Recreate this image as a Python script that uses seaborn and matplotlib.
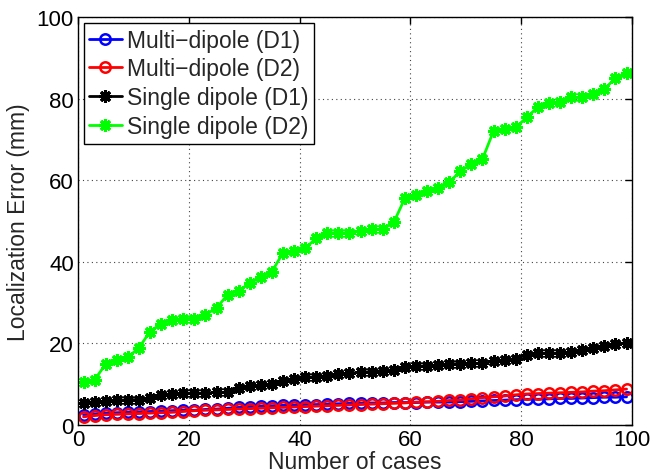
import numpy as np
import pandas as pd
import matplotlib
matplotlib.use("Agg")
import matplotlib.pyplot as plt
import seaborn as sns

cases = list(range(1, 100, 2))

multi_d1 = [2.5, 2.7, 2.9, 3.0, 3.1, 3.2, 3.3, 3.4, 3.5, 3.6,
            3.6, 3.8, 3.9, 4.1, 4.3, 4.5, 4.6, 4.7, 4.8, 4.9,
            5.0, 5.0, 5.1, 5.2, 5.3, 5.3, 5.4, 5.4, 5.5, 5.5,
            5.5, 5.6, 5.6, 5.6, 5.7, 5.8, 5.9, 6.0, 6.1, 6.2,
            6.3, 6.3, 6.4, 6.5, 6.5, 6.6, 6.7, 6.8, 6.8, 6.9]
multi_d2 = [2.0, 2.3, 2.5, 2.6, 2.7, 2.8, 2.9, 3.0, 3.1, 3.3,
            3.5, 3.6, 3.7, 3.8, 3.9, 4.0, 4.1, 4.2, 4.3, 4.4,
            4.5, 4.6, 4.7, 4.8, 4.9, 5.0, 5.1, 5.2, 5.3, 5.4,
            5.6, 5.7, 5.8, 6.0, 6.1, 6.4, 6.7, 6.9, 7.1, 7.4,
            7.6, 7.7, 7.8, 7.9, 8.0, 8.1, 8.3, 8.4, 8.6, 8.8]
single_d1 = [5.4, 5.7, 5.8, 6.0, 6.2, 6.2, 6.5, 7.4, 7.6, 7.8,
             7.8, 7.8, 8.0, 8.0, 9.1, 9.5, 9.7, 10.0, 10.9, 11.3,
             11.7, 11.8, 12.1, 12.5, 12.7, 12.9, 13.1, 13.3, 13.5, 14.1,
             14.4, 14.5, 14.7, 15.0, 15.0, 15.1, 15.1, 15.6, 16.0, 16.2,
             17.2, 17.6, 17.6, 17.6, 17.8, 18.4, 18.8, 19.3, 19.9, 20.1]
single_d2 = [10.5, 11.1, 14.9, 16.0, 16.6, 18.9, 22.9, 24.8, 25.8, 26.1,
             26.1, 27.0, 28.7, 31.9, 32.9, 34.8, 36.2, 37.6, 42.2, 42.7,
             43.3, 45.8, 47.1, 47.1, 47.1, 47.5, 48.0, 48.0, 49.7, 55.6,
             56.4, 57.4, 58.0, 59.5, 62.2, 64.0, 65.2, 72.1, 72.5, 73.0,
             75.4, 78.0, 78.9, 79.3, 80.3, 80.3, 81.1, 82.4, 85.0, 86.3]

labels = ["Multi\u2212dipole (D1)", "Multi\u2212dipole (D2)",
          "Single dipole (D1)", "Single dipole (D2)"]
series = [multi_d1, multi_d2, single_d1, single_d2]
colors = ["#0000ff", "#ff0000", "#000000", "#00ff00"]
markers = ["o", "o", (8, 2, 0), (8, 2, 0)]

sns.set_style("white")
plt.rcParams['font.family'] = ['Liberation Sans', 'DejaVu Sans']

fig = plt.figure(figsize=(6.53, 4.77), dpi=100)
ax = fig.add_axes([0.1194, 0.107, 0.8486, 0.855])

for lab, vals, c, m in zip(labels, series, colors, markers):
    df = pd.DataFrame({"x": cases, "y": vals})
    if m == "o":
        sns.lineplot(data=df, x="x", y="y", ax=ax, color=c, marker="o",
                     markersize=7.5, markerfacecolor="none", markeredgecolor=c,
                     markeredgewidth=1.8, linewidth=2, label=lab)
    else:
        sns.lineplot(data=df, x="x", y="y", ax=ax, color=c, marker=m,
                     markersize=9, markeredgecolor=c, markeredgewidth=2.2,
                     linewidth=2, label=lab)

ax.set_xlim(0, 100)
ax.set_ylim(0, 100)
ax.set_xticks([0, 20, 40, 60, 80, 100])
ax.set_yticks([0, 20, 40, 60, 80, 100])
ax.grid(True, linestyle=(0, (1, 3)), color="#444444", linewidth=0.8)
ax.tick_params(direction="in", top=True, right=True, length=5,
               labelsize=16, colors="black", width=1, pad=3)
for s in ax.spines.values():
    s.set_color("black")
    s.set_linewidth(1.0)
ax.set_xlabel("Number of cases", fontsize=16.5, labelpad=0)
ax.set_ylabel("Localization Error (mm)", fontsize=16.5, labelpad=5)

leg = ax.legend(loc="upper left", fontsize=16.5, frameon=True, fancybox=False,
                edgecolor="black", handlelength=1.4, handletextpad=0.25,
                borderpad=0.25, labelspacing=0.25, borderaxespad=0.25)
leg.get_frame().set_linewidth(1.0)
leg.get_frame().set_alpha(1)

fig.savefig("out.png", dpi=100)
